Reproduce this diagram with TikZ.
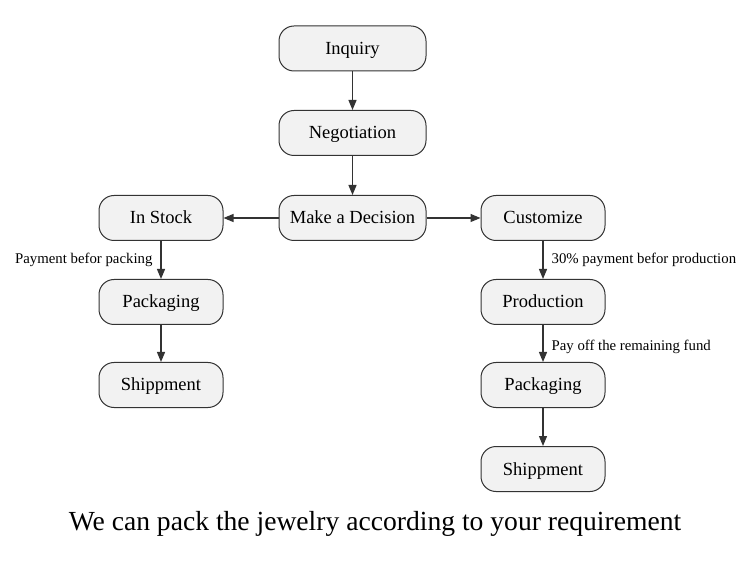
\documentclass[tikz,border=0pt]{standalone}
\usepackage{fontspec}
\setmainfont{Liberation Serif}
\usetikzlibrary{arrows.meta}
\definecolor{boxfill}{HTML}{F2F2F2}
\definecolor{boxline}{HTML}{333333}
\tikzset{
  box/.style={draw=boxline, fill=boxfill, line width=1pt, rounded corners=15pt,
    minimum height=45pt, inner sep=0pt, text height=14pt, text depth=2pt,
    font=\fontsize{18.5}{22}\selectfont},
  wide/.style={minimum width=147pt},
  narrow/.style={minimum width=124pt},
  conn/.style={draw=boxline, line width=1.2pt, -{Triangle[length=10pt,width=8pt]}},
  lbl/.style={font=\fontsize{14.8}{17}\selectfont, inner sep=0pt},
}
\begin{document}
\begin{tikzpicture}[x=1pt,y=-1pt]
\useasboundingbox (0,0) rectangle (750,561);
\node[box,wide] (inq) at (352.5,48.5) {Inquiry};
\node[box,wide] (neg) at (352.5,133) {Negotiation};
\node[box,wide] (dec) at (352.5,218) {Make a Decision};
\node[box,narrow] (stock) at (161,218) {In Stock};
\node[box,narrow] (packL) at (161,302) {Packaging};
\node[box,narrow] (shipL) at (161,385) {Shippment};
\node[box,narrow] (cust) at (543,218) {Customize};
\node[box,narrow] (prod) at (543,302) {Production};
\node[box,narrow] (packR) at (543,385) {Packaging};
\node[box,narrow] (shipR) at (543,469) {Shippment};
\draw[conn] (inq) -- (neg);
\draw[conn] (neg) -- (dec);
\draw[conn] (dec) -- (stock);
\draw[conn] (dec) -- (cust);
\draw[conn] (stock) -- node[lbl, left=8pt, pos=0.5] (l1) {Payment befor packing} (packL);
\draw[conn] (packL) -- (shipL);
\draw[conn] (cust) -- node[lbl, right=8pt, pos=0.5] (l2) {30\% payment befor production} (prod);
\draw[conn] (prod) -- node[lbl, right=8pt, pos=0.6] (l3) {Pay off the remaining fund} (packR);
\draw[conn] (packR) -- (shipR);
\node[font=\fontsize{27.6}{31}\selectfont] (cap) at (375,524) {We can pack the jewelry according to your requirement};
\end{tikzpicture}
\end{document}
